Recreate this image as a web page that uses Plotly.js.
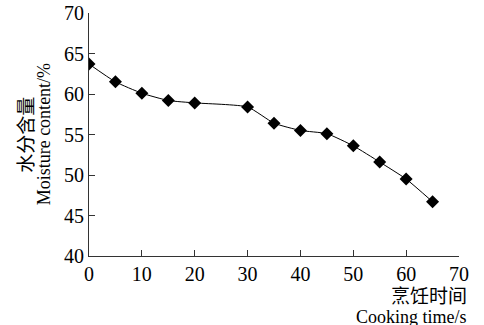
<!DOCTYPE html>
<html>
<head>
<meta charset="utf-8">
<script src="https://cdn.plot.ly/plotly-3.0.1.min.js"></script>
<style>
html,body{margin:0;padding:0;background:#fff;}
#chart{width:484px;height:325px;}
</style>
</head>
<body>
<div id="chart"></div>
<script>
const cookingTime = [0, 5, 10, 15, 20, 30, 35, 40, 45, 50, 55, 60, 65];
const moisture = [63.7, 61.5, 60.1, 59.2, 58.9, 58.4, 56.4, 55.5, 55.1, 53.6, 51.6, 49.5, 46.7];
const xTicks = [0, 10, 20, 30, 40, 50, 60, 70];
const yTicks = [40, 45, 50, 55, 60, 65, 70];

const serif = '"Times New Roman", "Liberation Serif", serif';
const cjk = '"Noto Sans CJK SC", sans-serif';

const trace = {
  x: cookingTime,
  y: moisture,
  mode: 'lines+markers',
  type: 'scatter',
  line: {color: '#000', width: 1, shape: 'spline', smoothing: 0.5},
  marker: {symbol: 'diamond', size: 10, color: '#000'},
  showlegend: false,
  hoverinfo: 'skip'
};

const layout = {
  width: 484, height: 325,
  margin: {l: 89, r: 25, t: 13, b: 69},
  paper_bgcolor: '#fff', plot_bgcolor: '#fff',
  font: {family: serif, color: '#000'},
  xaxis: {
    range: [0, 70], tickvals: xTicks, ticktext: xTicks.map(String),
    showline: true, linecolor: '#333', linewidth: 1,
    ticks: 'inside', ticklen: 6, tickcolor: '#333',
    showgrid: false, zeroline: false,
    tickfont: {family: serif, size: 20, color: '#000'}
  },
  yaxis: {
    range: [40, 70], tickvals: yTicks, ticktext: yTicks.map(String),
    showline: true, linecolor: '#333', linewidth: 1,
    ticks: 'inside', ticklen: 6, tickcolor: '#333',
    showgrid: false, zeroline: false,
    tickfont: {family: serif, size: 20, color: '#000'}
  },
  annotations: [
    {text: '水分含量', xref: 'paper', yref: 'paper', x: -0.175, y: 0.5,
     xanchor: 'center', yanchor: 'middle', textangle: -90, showarrow: false,
     font: {family: cjk, size: 19, color: '#000'}},
    {text: 'Moisture content/%', xref: 'paper', yref: 'paper', x: -0.122, y: 0.5,
     xanchor: 'center', yanchor: 'middle', textangle: -90, showarrow: false,
     font: {family: serif, size: 18, color: '#000'}},
    {text: '烹饪时间', xref: 'paper', yref: 'paper', x: 1.027, y: -0.158,
     xanchor: 'right', yanchor: 'middle', showarrow: false,
     font: {family: cjk, size: 19, color: '#000'}},
    {text: 'Cooking time/s', xref: 'paper', yref: 'paper', x: 1.027, y: -0.252,
     xanchor: 'right', yanchor: 'middle', showarrow: false,
     font: {family: serif, size: 18, color: '#000'}}
  ]
};

Plotly.newPlot('chart', [trace], layout, {staticPlot: true, displayModeBar: false});
</script>
</body>
</html>
